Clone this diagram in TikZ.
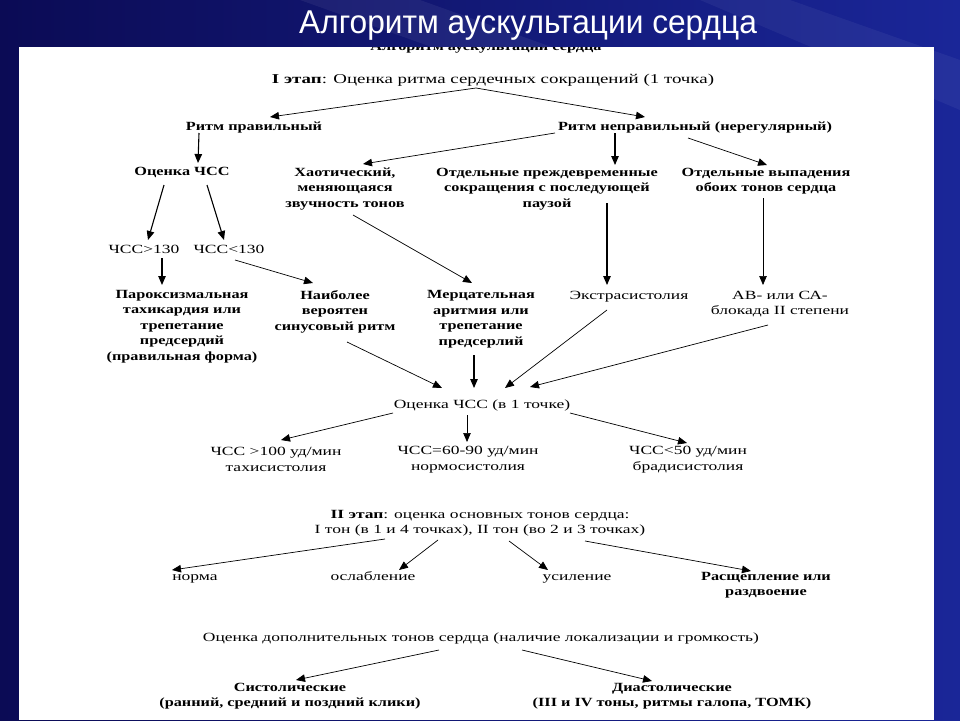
\documentclass[tikz,border=0pt]{standalone}
\usepackage{fontspec}
\setmainfont{Liberation Serif}
\newfontfamily\tr[FakeStretch=1.4]{Liberation Serif}
\newfontfamily\tbb[FakeStretch=1.3]{Liberation Serif}
\newfontfamily\titlefont[FakeStretch=0.96]{Liberation Sans}
\usetikzlibrary{arrows.meta,calc}
\definecolor{navyL}{HTML}{0B0B55}
\definecolor{navyR}{HTML}{1A2698}
\begin{document}
\begin{tikzpicture}[x=1pt,y=-1pt,
  lbl/.style={font=\tr\fontsize{12.5}{15.5}\selectfont, align=center, inner sep=0pt, text=black},
  lblb/.style={lbl, font=\tbb\bfseries\fontsize{12.5}{15.5}\selectfont},
  one/.style={text height=9pt, text depth=3pt},
  arr/.style={-{Triangle[length=9pt,width=7.5pt]}, line width=0.7pt, black},
  arrb/.style={arr, line width=1.1pt}]
\useasboundingbox (0,0) rectangle (960,720);
% background
\shade[left color=navyL, right color=navyR] (0,0) rectangle (960,720);
\fill[white, opacity=0.06] (300,0) -- (420,0) -- (560,50) -- (440,50) -- cycle;
\fill[white, opacity=0.05] (700,0) -- (790,0) -- (960,60) -- (960,110) -- cycle;
\fill[white] (19,47) rectangle (934,720);
% cut-off heading fragment
\begin{scope}
\clip (19,47) rectangle (934,60);
\node[lblb, anchor=base] (frag) at (486,50) {Алгоритм аускультации сердца};
\end{scope}
% title
\node[font=\titlefont\fontsize{33}{33}\selectfont, text=white, inner sep=0pt, anchor=base, text depth=0pt] (title) at (528,33) {Алгоритм аускультации сердца};

% nodes
\node[lbl, one, font=\tr\fontsize{13.5}{15.5}\selectfont] (st1) at (493,80) {\textbf{I этап}: Оценка ритма сердечных сокращений (1 точка)};
\node[lblb, one] (rp) at (254,127) {Ритм правильный};
\node[lblb, one] (rn) at (695,127) {Ритм неправильный (нерегулярный)};
\node[lblb, one] (och) at (182,172) {Оценка ЧСС};
\node[lblb] (xao) at (345,189) {Хаотический,\\меняющаяся\\звучность тонов};
\node[lblb] (otp) at (547,189) {Отдельные преждевременные\\сокращения с последующей\\паузой};
\node[lblb] (otv) at (766,181) {Отдельные выпадения\\обоих тонов сердца};
\node[lbl, one] (ca) at (144,250) {ЧСС>130};
\node[lbl, one] (cb) at (229,250) {ЧСС<130};
\node[lblb] (par) at (182,326.5) {Пароксизмальная\\тахикардия или\\трепетание\\предсердий\\(правильная форма)};
\node[lblb] (nai) at (335,311.5) {Наиболее\\вероятен\\синусовый ритм};
\node[lblb] (mer) at (481,319) {Мерцательная\\аритмия или\\трепетание\\предсерлий};
\node[lbl, one] (ext) at (629,296) {Экстрасистолия};
\node[lbl] (ab) at (780,304) {АВ- или СА-\\блокада II степени};
\node[lbl, one] (och2) at (482,405) {Оценка ЧСС (в 1 точке)};
\node[lbl] (t1) at (276,459.5) {ЧСС >100 уд/мин\\тахисистолия};
\node[lbl] (t2) at (468,459.5) {ЧСС=60-90 уд/мин\\нормосистолия};
\node[lbl] (t3) at (688,459.5) {ЧСС<50 уд/мин\\брадисистолия};
\node[lbl] (st2) at (480,523) {\textbf{II этап}: оценка основных тонов сердца:\\I тон (в 1 и 4 точках), II тон (во 2 и 3 точках)};
\node[lbl, one] (norm) at (195,577) {норма};
\node[lbl, one] (osl) at (373,577) {ослабление};
\node[lbl, one] (usl) at (577,577) {усиление};
\node[lblb] (ras) at (766,585) {Расщепление или\\раздвоение};
\node[lbl, one] (dop) at (481,638) {Оценка дополнительных тонов сердца (наличие локализации и громкость)};
\node[lblb] (sys) at (290,696) {Систолические\\(ранний, средний и поздний клики)};
\node[lblb] (dia) at (672,696) {Диастолические\\(III и IV тоны, ритмы галопа, ТОМК)};

% connectors
\draw[arr] ($(st1.center)+(-17,8)$) -- ($(rp.center)+(16,-10)$);
\draw[arr] ($(st1.center)+(-17,8)$) -- ($(rn.center)+(-50,-10)$);
\draw[arrb] ($(rp.center)+(-55,6)$) -- ($(och.center)+(16,-9)$);
\draw[arrb] ($(och.center)+(-18,13)$) -- ($(ca.center)+(4,-10)$);
\draw[arrb] ($(och.center)+(25,13)$) -- ($(cb.center)+(-5,-10)$);
\draw[arr] ($(rn.center)+(-140,6)$) -- ($(xao.center)+(18,-25)$);
\draw[arrb] ($(rn.center)+(-80,6)$) -- ($(otp.center)+(68,-24)$);
\draw[arr] ($(rn.center)+(-7,11)$) -- ($(otv.center)+(1,-16)$);
\draw[arrb] ($(ca.center)+(18,8)$) -- ($(par.center)+(-20,-41.5)$);
\draw[arr] ($(cb.center)+(6,10)$) -- ($(nai.center)+(-22,-28.5)$);
\draw[arr] ($(xao.center)+(8,26)$) -- ($(mer.center)+(-9,-36)$);
\draw[arrb] ($(otp.center)+(60,14)$) -- ($(ext.center)+(-22,-11)$);
\draw[arr] ($(otv.center)+(-3,17)$) -- ($(ab.center)+(-17,-19)$);
\draw[arr] ($(nai.center)+(12,30.5)$) -- ($(och2.center)+(-40,-17)$);
\draw[arrb] ($(mer.center)+(-7,36)$) -- ($(och2.center)+(-8,-17)$);
\draw[arr] ($(ext.center)+(-22,14)$) -- ($(och2.center)+(23,-17)$);
\draw[arr] ($(ab.center)+(-12,21)$) -- ($(och2.center)+(48,-18)$);
\draw[arr] ($(och2.center)+(-89,8)$) -- ($(t1.center)+(5,-19.5)$);
\draw[arr] ($(och2.center)+(-15,10)$) -- ($(t2.center)+(-1,-17.5)$);
\draw[arr] ($(och2.center)+(88,8)$) -- ($(t3.center)+(-1,-16.5)$);
\draw[arr] ($(st2.center)+(-95,16)$) -- ($(norm.center)+(-23,-7)$);
\draw[arr] ($(st2.center)+(-42,17)$) -- ($(osl.center)+(26,-7)$);
\draw[arr] ($(st2.center)+(29,18)$) -- ($(usl.center)+(-29,-7)$);
\draw[arr] ($(st2.center)+(105,18)$) -- ($(ras.center)+(-15,-14)$);
\draw[arr] ($(dop.center)+(-42,12)$) -- ($(sys.center)+(6,-16)$);
\draw[arr] ($(dop.center)+(41,12)$) -- ($(dia.center)+(-20,-15)$);
\end{tikzpicture}
\end{document}
